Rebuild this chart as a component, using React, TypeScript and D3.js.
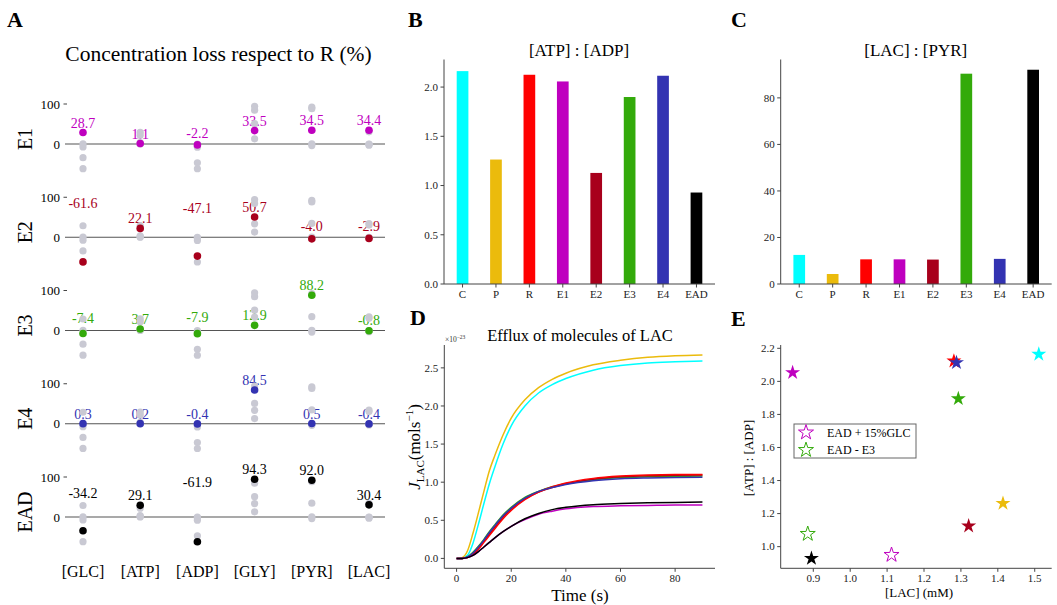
import React from "react";
import * as d3 from "d3";

// ---- panel A: concentration loss respect to R (%) ----
const rowNames = ["E1", "E2", "E3", "E4", "EAD"];
const metabolites = ["[GLC]", "[ATP]", "[ADP]", "[GLY]", "[PYR]", "[LAC]"];
const lossE1 = [28.7, 1.1, -2.2, 33.5, 34.5, 34.4];
const lossE2 = [-61.6, 22.1, -47.1, 50.7, -4.0, -2.9];
const lossE3 = [-7.4, 3.7, -7.9, 12.9, 88.2, -0.8];
const lossE4 = [0.3, 0.2, -0.4, 84.5, 0.5, -0.4];
const lossEAD = [-34.2, 29.1, -61.9, 94.3, 92.0, 30.4];
const lossRows = [lossE1, lossE2, lossE3, lossE4, lossEAD];

// ---- panels B, C ----
const conditions = ["C", "P", "R", "E1", "E2", "E3", "E4", "EAD"];
const atpAdp = [2.162, 1.264, 2.125, 2.057, 1.128, 1.899, 2.115, 0.929];
const lacPyr = [12.5, 4.3, 10.6, 10.6, 10.5, 90.4, 10.8, 92.1];

const colors: Record<string, string> = {
  C: "#00ffff",
  P: "#ebbb0c",
  R: "#ff0000",
  E1: "#bf00bf",
  E2: "#a8001c",
  E3: "#33aa0a",
  E4: "#3333b2",
  EAD: "#000000",
};

// ---- panel D: efflux of LAC (x1e-23 mol/s) ----
const times = [0, 2, 4, 6, 8, 10, 12, 14, 17, 20, 25, 30, 35, 40, 50, 60, 70, 80, 90];
const effluxP = [0, 0.01, 0.1, 0.33, 0.6, 0.88, 1.15, 1.35, 1.62, 1.84, 2.08, 2.24, 2.35, 2.43, 2.54, 2.6, 2.64, 2.66, 2.67];
const effluxC = [0, 0, 0.04, 0.2, 0.45, 0.72, 0.98, 1.2, 1.5, 1.74, 2.0, 2.17, 2.28, 2.36, 2.47, 2.53, 2.565, 2.58, 2.59];
const effluxE3 = [0, 0, 0.02, 0.08, 0.16, 0.25, 0.35, 0.44, 0.57, 0.67, 0.8, 0.88, 0.94, 0.98, 1.03, 1.06, 1.07, 1.075, 1.08];
const effluxR = [0, 0, 0.01, 0.05, 0.12, 0.21, 0.3, 0.39, 0.52, 0.63, 0.77, 0.87, 0.94, 0.99, 1.05, 1.08, 1.095, 1.1, 1.1];
const effluxE2 = [0, 0, 0.015, 0.06, 0.14, 0.23, 0.32, 0.41, 0.54, 0.65, 0.78, 0.87, 0.93, 0.98, 1.04, 1.07, 1.085, 1.09, 1.095];
const effluxE4 = [0, 0, 0.02, 0.07, 0.15, 0.24, 0.34, 0.43, 0.56, 0.66, 0.79, 0.88, 0.93, 0.97, 1.02, 1.045, 1.055, 1.06, 1.065];
const effluxE1 = [0, 0, 0.01, 0.04, 0.09, 0.15, 0.21, 0.27, 0.35, 0.42, 0.51, 0.58, 0.62, 0.65, 0.68, 0.69, 0.695, 0.7, 0.7];
const effluxEAD = [0, 0, 0.01, 0.04, 0.09, 0.15, 0.21, 0.27, 0.35, 0.42, 0.52, 0.59, 0.64, 0.67, 0.705, 0.72, 0.73, 0.735, 0.74];
const effluxSeries: [string, number[]][] = [
  ["P", effluxP],
  ["C", effluxC],
  ["E3", effluxE3],
  ["E2", effluxE2],
  ["R", effluxR],
  ["E4", effluxE4],
  ["E1", effluxE1],
  ["EAD", effluxEAD],
];

// ---- panel E: [LAC] vs [ATP]:[ADP] ----
const scatterCond = ["E1", "R", "E4", "C", "E3", "P", "E2", "EAD"];
const scatterLac = [0.844, 1.281, 1.288, 1.511, 1.293, 1.414, 1.321, 0.895];
const scatterAtp = [2.053, 2.123, 2.113, 2.164, 1.895, 1.262, 1.125, 0.929];
const openLabels = ["EAD + 15%GLC", "EAD - E3"];
const openColors = ["#bf00bf", "#33aa0a"];
const openLac = [1.112, 0.885];
const openAtp = [0.95, 1.077];

const FONT = "'Liberation Serif', 'DejaVu Serif', serif";
const AXIS = "#444";
const GRAY = "#c9c9d3";

function LeftAxis({ scale, x, ticks, fmt }: { scale: any; x: number; ticks: number[]; fmt: (v: number) => string }) {
  const [r0, r1] = scale.range();
  return (
    <g>
      <line x1={x} x2={x} y1={r0} y2={r1} stroke={AXIS} strokeWidth={1} />
      {ticks.map((t) => (
        <g key={t}>
          <line x1={x - 3.5} x2={x} y1={scale(t)} y2={scale(t)} stroke={AXIS} />
          <text x={x - 6} y={scale(t)} dy="0.35em" textAnchor="end" fontSize={11} fill="#222">
            {fmt(t)}
          </text>
        </g>
      ))}
    </g>
  );
}

function BottomAxis({ y, x0, x1, ticks }: { y: number; x0: number; x1: number; ticks: { pos: number; label: string }[] }) {
  return (
    <g>
      <line x1={x0} x2={x1} y1={y} y2={y} stroke={AXIS} strokeWidth={1} />
      {ticks.map((t) => (
        <g key={t.label}>
          <line x1={t.pos} x2={t.pos} y1={y} y2={y + 3.5} stroke={AXIS} />
          <text x={t.pos} y={y + 14} textAnchor="middle" fontSize={11} fill="#222">
            {t.label}
          </text>
        </g>
      ))}
    </g>
  );
}

function PanelA() {
  const x = d3.scalePoint<string>().domain(metabolites).range([83, 369]);
  return (
    <g>
      <text x={7} y={27} fontSize={22} fontWeight="bold">A</text>
      <text x={218.5} y={61} textAnchor="middle" fontSize={21.5}>
        Concentration loss respect to R (%)
      </text>
      {rowNames.map((row, i) => {
        const y0 = 144 + i * 93.25;
        const y = d3.scaleLinear().domain([0, 100]).range([y0, y0 - 40]);
        const vals = lossRows[i];
        const col = colors[row];
        return (
          <g key={row}>
            <text transform={`translate(32,${y0 - 5}) rotate(-90)`} textAnchor="middle" fontSize={20}>
              {row}
            </text>
            <text x={60} y={y(100)} dy="0.35em" textAnchor="end" fontSize={13}>100</text>
            <line x1={63.5} x2={67} y1={y(100)} y2={y(100)} stroke={AXIS} />
            <text x={60} y={y(0)} dy="0.35em" textAnchor="end" fontSize={13}>0</text>
            <line x1={65} x2={385} y1={y(0)} y2={y(0)} stroke="#555" strokeWidth={1.2} />
            {vals.map((v, j) => (
              <text key={"t" + j} x={x(metabolites[j])} y={y(Math.abs(v)) - 5} textAnchor="middle" fontSize={14} fill={col}>
                {v.toFixed(1)}
              </text>
            ))}
            {lossRows.map((other, k) =>
              k === i
                ? null
                : other.map((v, j) => (
                    <circle key={`g${k}-${j}`} cx={x(metabolites[j])} cy={y(v)} r={3.6} fill={GRAY} />
                  ))
            )}
            {vals.map((v, j) => (
              <circle key={"c" + j} cx={x(metabolites[j])} cy={y(v)} r={3.8} fill={col} />
            ))}
          </g>
        );
      })}
      {metabolites.map((m) => (
        <text key={m} x={x(m)} y={577} textAnchor="middle" fontSize={16}>
          {m}
        </text>
      ))}
    </g>
  );
}

function BarPanel({ x0, title, values, yMax, ticks, fmt, letter, letterX }: any) {
  const x = d3.scaleBand<string>().domain(conditions).range([x0, x0 + 271]).paddingInner(0.65).paddingOuter(0.38);
  const y = d3.scaleLinear().domain([0, yMax]).range([284, 59.5]);
  return (
    <g>
      <text x={letterX} y={27} fontSize={22} fontWeight="bold">{letter}</text>
      <text x={x0 + 135} y={56} textAnchor="middle" fontSize={17}>{title}</text>
      {conditions.map((c, i) => (
        <rect key={c} x={x(c)} y={y(values[i])} width={x.bandwidth()} height={y(0) - y(values[i])} fill={colors[c]} />
      ))}
      <LeftAxis scale={y} x={x0} ticks={ticks} fmt={fmt} />
      <BottomAxis y={284} x0={x0} x1={x0 + 271} ticks={conditions.map((c) => ({ pos: (x(c) as number) + x.bandwidth() / 2, label: c }))} />
    </g>
  );
}

function PanelD() {
  const x = d3.scaleLinear().domain([-4.5, 94.6]).range([444.3, 715]);
  const y = d3.scaleLinear().domain([-0.13, 2.8]).range([568.3, 345]);
  const line = d3
    .line<number>()
    .x((_, i) => x(times[i]))
    .y((d) => y(d))
    .curve(d3.curveMonotoneX);
  return (
    <g>
      <text x={410} y={325} fontSize={22} fontWeight="bold">D</text>
      <text x={580} y={341} textAnchor="middle" fontSize={16.5}>Efflux of molecules of LAC</text>
      <text x={445} y={342} fontSize={7.5} fill="#333">
        ×10<tspan dy={-3} fontSize={5.5}>−23</tspan>
      </text>
      {effluxSeries.map(([c, vals]) => (
        <path key={c} d={line(vals) as string} fill="none" stroke={colors[c]} strokeWidth={1.5} />
      ))}
      <LeftAxis scale={y} x={444.3} ticks={[0, 0.5, 1, 1.5, 2, 2.5]} fmt={d3.format(".1f")} />
      <BottomAxis y={568.3} x0={444.3} x1={715} ticks={[0, 20, 40, 60, 80].map((t) => ({ pos: x(t), label: String(t) }))} />
      <text transform="translate(420,447) rotate(-90)" textAnchor="middle" fontSize={17}>
        <tspan fontStyle="italic">J</tspan>
        <tspan fontSize={11} dy={4}>LAC</tspan>
        <tspan dy={-4}>(mols</tspan>
        <tspan fontSize={11} dy={-7}>−1</tspan>
        <tspan dy={7}>)</tspan>
      </text>
      <text x={580} y={601} textAnchor="middle" fontSize={17}>Time (s)</text>
    </g>
  );
}

function PanelE() {
  const x = d3.scaleLinear().domain([0.8117, 1.546]).range([780.7, 1051.7]);
  const y = d3.scaleLinear().domain([0.869, 2.22]).range([568.3, 345]);
  const star = d3.symbol().type(d3.symbolStar).size(70)() as string;
  const xt = [0.9, 1.0, 1.1, 1.2, 1.3, 1.4, 1.5];
  const yt = [1.0, 1.2, 1.4, 1.6, 1.8, 2.0, 2.2];
  return (
    <g>
      <text x={731} y={326} fontSize={22} fontWeight="bold">E</text>
      <LeftAxis scale={y} x={780.7} ticks={yt} fmt={d3.format(".1f")} />
      <BottomAxis y={568.3} x0={780.7} x1={1051.7} ticks={xt.map((t) => ({ pos: x(t), label: t.toFixed(1) }))} />
      {scatterCond.map((c, i) => (
        <path key={c} d={star} transform={`translate(${x(scatterLac[i])},${y(scatterAtp[i])})`} fill={colors[c]} />
      ))}
      {openLabels.map((l, i) => (
        <path key={l} d={star} transform={`translate(${x(openLac[i])},${y(openAtp[i])})`} fill="none" stroke={openColors[i]} strokeWidth={1} />
      ))}
      <rect x={794} y={424} width={122} height={34} fill="white" stroke="#666" strokeWidth={1} />
      {openLabels.map((l, i) => (
        <g key={l}>
          <path d={star} transform={`translate(806,${432.5 + i * 17.5})`} fill="none" stroke={openColors[i]} strokeWidth={1} />
          <text x={827} y={432.5 + i * 17.5} dy="0.35em" fontSize={12}>{l}</text>
        </g>
      ))}
      <text transform="translate(753,458) rotate(-90)" textAnchor="middle" fontSize={13}>[ATP] : [ADP]</text>
      <text x={919} y={597} textAnchor="middle" fontSize={13}>[LAC] (mM)</text>
    </g>
  );
}

export default function App() {
  return (
    <svg
      width={1057}
      height={605}
      style={{ position: "absolute", left: 0, top: 0, background: "white" }}
      fontFamily={FONT}
    >
      <PanelA />
      <BarPanel x0={444} title="[ATP] : [ADP]" values={atpAdp} yMax={2.28} ticks={[0, 0.5, 1, 1.5, 2]} fmt={d3.format(".1f")} letter="B" letterX={408} />
      <BarPanel x0={780.7} title="[LAC] : [PYR]" values={lacPyr} yMax={96.5} ticks={[0, 20, 40, 60, 80]} fmt={d3.format("d")} letter="C" letterX={731} />
      <PanelD />
      <PanelE />
    </svg>
  );
}
